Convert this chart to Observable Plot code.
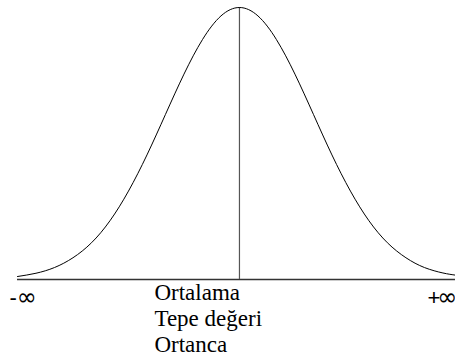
<!DOCTYPE html>
<html>
<head>
<meta charset="utf-8">
<script src="https://cdn.jsdelivr.net/npm/d3@7"></script>
<script src="https://cdn.jsdelivr.net/npm/@observablehq/plot@0.6"></script>
<style>
  html, body { margin: 0; padding: 0; background: #fff; }
  #chart svg { display: block; }
  #chart svg text.serif, #chart svg text.serif tspan { font-family: "Liberation Serif", "Times New Roman", serif; }
</style>
</head>
<body>
<div id="chart"></div>
<script>
// Curve: position in standard deviations, height relative to peak
const zValues = [-3, -2.75, -2.5, -2.25, -2, -1.75, -1.5, -1.25, -1, -0.75, -0.5, -0.25, 0,
                 0.25, 0.5, 0.75, 1, 1.25, 1.5, 1.75, 2, 2.25, 2.5, 2.75, 2.92];
const heights = [0.011, 0.023, 0.044, 0.080, 0.135, 0.216, 0.325, 0.458, 0.607, 0.755, 0.882, 0.969, 1,
                 0.969, 0.882, 0.755, 0.607, 0.458, 0.325, 0.216, 0.135, 0.080, 0.044, 0.024, 0.016];
const centerLabel = ["Ortalama", "Tepe değeri", "Ortanca"];
const infLabels = ["-∞", "+∞"];
const infPos = [-3, 2.92];

const curve = zValues.map((z, i) => ({z, h: heights[i]}));
const infs = infLabels.map((t, i) => ({t, x: infPos[i]}));

const chart = Plot.plot({
  width: 455,
  height: 356,
  marginLeft: 17,
  marginRight: 0,
  marginTop: 7,
  marginBottom: 77,
  style: {background: "#fff"},
  x: {domain: [-3, 2.92], axis: null},
  y: {domain: [0, 1], axis: null},
  marks: [
    Plot.ruleY([0], {stroke: "#333", strokeWidth: 1.5}),
    Plot.ruleX([0], {y1: 0, y2: 1, stroke: "#555", strokeWidth: 1.2}),
    Plot.line(curve, {x: "z", y: "h", curve: "natural", stroke: "#000", strokeWidth: 1}),
    Plot.text([centerLabel.join("\n")], {
      x: 0, y: 0, text: d => d, textAnchor: "start", lineAnchor: "top",
      dx: -85, dy: 1.7, fontSize: 23, lineHeight: 1.13, fill: "#000"
    }),
    Plot.text(infs.slice(0, 1), {
      x: "x", y: 0, text: "t", textAnchor: "start", lineAnchor: "middle",
      dx: -8, dy: 18, fontSize: 22, fill: "#000"
    }),
    Plot.text(infs.slice(1), {
      x: "x", y: 0, text: "t", textAnchor: "start", lineAnchor: "middle",
      dx: -28, dy: 18, fontSize: 22, fill: "#000"
    })
  ]
});
document.getElementById("chart").appendChild(chart);
// sign in Liberation Sans, infinity glyph in DejaVu Sans (as in the reference)
d3.select(chart).selectAll("text").each(function() {
  const s = this.textContent;
  if (infLabels.includes(s)) {
    const t = d3.select(this);
    t.text(null);
    t.append("tspan").attr("font-family", "'Liberation Sans', Arial, sans-serif")
      .attr("font-size", 22).attr("letter-spacing", s[0] === "+" ? -3 : 0).text(s[0]);
    t.append("tspan").attr("font-family", "'DejaVu Sans', sans-serif")
      .attr("font-size", 24).text(s.slice(1));
  } else {
    this.setAttribute("class", "serif");
  }
});
</script>
</body>
</html>
